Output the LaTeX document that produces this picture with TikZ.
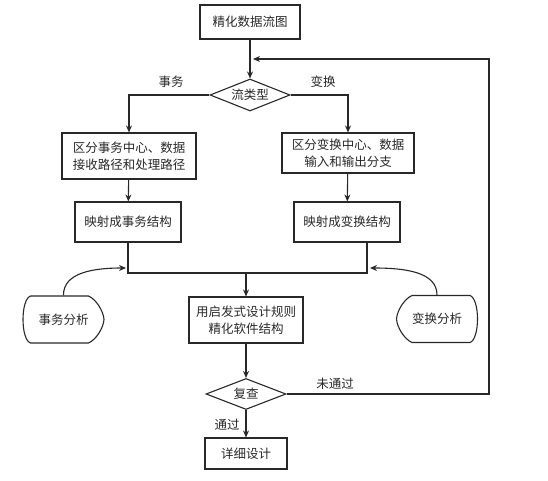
\documentclass[tikz,border=0pt]{standalone}
\usepackage{fontspec}
\setmainfont{Noto Sans CJK SC}
\usetikzlibrary{arrows.meta, calc, shapes.geometric}
\definecolor{lnblack}{RGB}{40, 40, 40}

\begin{document}
\begin{tikzpicture}[x=1pt, y=-1pt,
    line width=1.1pt, draw=lnblack,
    every node/.style={font=\fontsize{12.5}{17}\selectfont, text=lnblack},
    procbox/.style={draw, rectangle, align=center, inner sep=0pt},
    decide/.style={draw, diamond, aspect=2.5, inner sep=0pt, minimum width=80pt, minimum height=32pt},
    termtxt/.style={inner sep=0pt, minimum width=81pt, minimum height=47pt},
    flow/.style={-{Stealth[length=7pt, width=6pt]}}]

\useasboundingbox (0,0) rectangle (548,481);

% === Cajas ===
\node[procbox, minimum width=100pt, minimum height=34pt] (top) at (250,22) {精化数据流图};
\node[decide] (d1) at (250,95) {流类型};

\node[procbox, minimum width=134pt, minimum height=46pt] (lb1) at (129,156) {区分事务中心、数据\\接收路径和处理路径};
\node[procbox, minimum width=132pt, minimum height=40pt] (rb1) at (348,153) {区分变换中心、数据\\输入和输出分支};

\node[procbox, minimum width=106pt, minimum height=40pt] (lb2) at (128,222) {映射成事务结构};
\node[procbox, minimum width=106pt, minimum height=40pt] (rb2) at (347,222) {映射成变换结构};

\node[procbox, minimum width=114pt, minimum height=46pt] (box3) at (246,320) {用启发式设计规则\\精化软件结构};
\node[decide, minimum height=31pt] (d2) at (246,394) {复查};
\node[procbox, minimum width=82pt, minimum height=31pt] (box4) at (246,453.5) {详细设计};

% Terminales
\node[termtxt] (ta) at (63.5,319.5) {事务分析};
\node[termtxt] (tb) at (437,319) {变换分析};
\draw[shift={(ta.center)}] (-33,-23.5) -- (25,-23.5)
    .. controls (33,-20) and (40,-8) .. (40.5,0)
    .. controls (40,8) and (33,20) .. (25,23.5) -- (-33,23.5)
    .. controls (-43,20) and (-43,-20) .. (-33,-23.5) -- cycle;
\draw[shift={(tb.center)}, xscale=-1] (-33,-23.5) -- (25,-23.5)
    .. controls (33,-20) and (40,-8) .. (40.5,0)
    .. controls (40,8) and (33,20) .. (25,23.5) -- (-33,23.5)
    .. controls (-43,20) and (-43,-20) .. (-33,-23.5) -- cycle;

% Puntos auxiliares
\coordinate (jl) at (128,273);
\coordinate (jr) at (367,273);
\coordinate (jm) at (246,273);
\coordinate (al) at (126,268);
\coordinate (ar) at (370,268);
\coordinate (fb) at (489,59);
\coordinate (fbin) at (253,59);

% === Conectores ===
\draw[flow] (top) -- (d1);
\draw[flow] (d1.west) -| (lb1.north);
\draw[flow] (d1.east) -| (rb1.north);
\draw[flow] (lb1) -- (lb2);
\draw[flow] (rb1) -- (rb2);
\draw (lb2.south) -- (jl) -- (jr) -- (jr |- rb2.south);
\draw[flow] (jm) -- (box3.north);
\draw[flow] (ta.north) .. controls (63,272) and (95,268) .. (al);
\draw[flow] (tb.north) .. controls (437,272) and (405,268) .. (ar);
\draw[flow] (box3) -- (d2);
\draw[flow] (d2) -- (box4);
\draw[flow] (d2.east) -| (fb) -- (fbin);

% Etiquetas
\node (lshiwu) at (171,82) {事务};
\node (lbianhuan) at (323,82) {变换};
\node (lno) at (335,384) {未通过};
\node (lyes) at (227,425) {通过};

\end{tikzpicture}
\end{document}
